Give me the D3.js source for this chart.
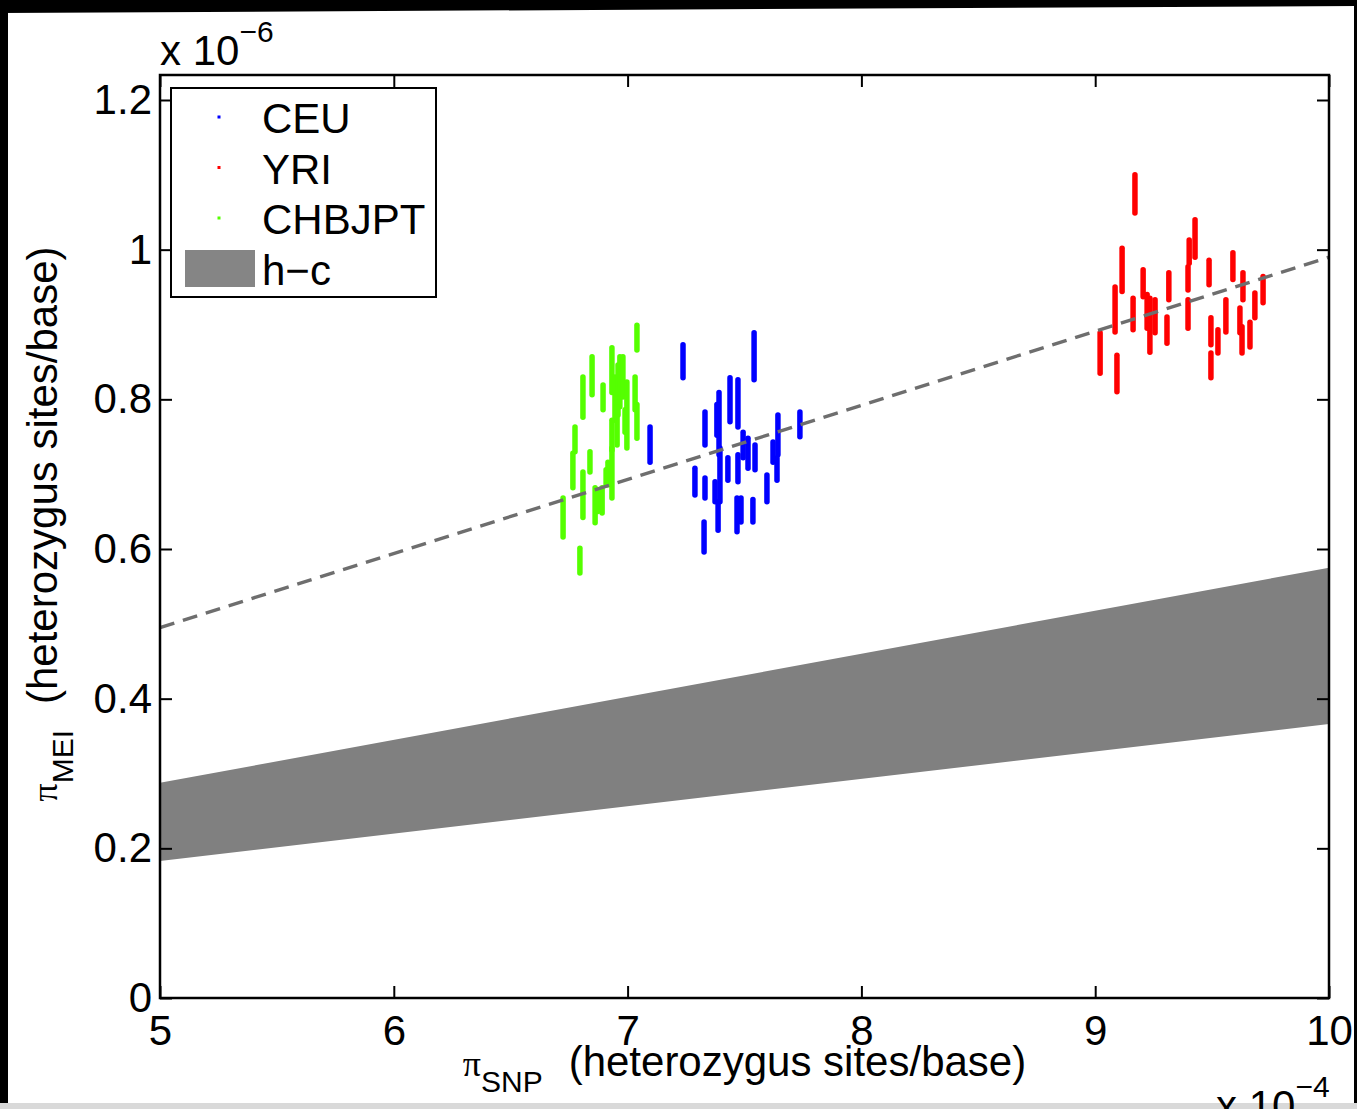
<!DOCTYPE html>
<html>
<head>
<meta charset="utf-8">
<script src="https://cdn.jsdelivr.net/npm/d3@7"></script>
<style>
  body { margin: 0; background: #fff; }
  svg { display: block; }
  text { font-family: "Liberation Sans", Arial, Helvetica, sans-serif; fill: #000; }
</style>
</head>
<body>
<svg id="chart" width="1357" height="1109"></svg>
<script>
// Per-individual diversity: [pi_SNP (x1e-4), pi_MEI low (x1e-6), pi_MEI high (x1e-6)]
const ceu = [
  [7.237, 0.829, 0.873], [7.541, 0.826, 0.889], [7.438, 0.770, 0.829], [7.472, 0.763, 0.826],
  [7.391, 0.726, 0.809], [7.331, 0.739, 0.783], [7.382, 0.752, 0.793], [7.395, 0.663, 0.735],
  [7.288, 0.672, 0.708], [7.331, 0.668, 0.695], [7.374, 0.663, 0.690], [7.429, 0.692, 0.722],
  [7.472, 0.690, 0.726], [7.494, 0.722, 0.756], [7.515, 0.708, 0.748], [7.545, 0.706, 0.739],
  [7.643, 0.726, 0.779], [7.622, 0.716, 0.743], [7.639, 0.692, 0.722], [7.596, 0.663, 0.699],
  [7.737, 0.750, 0.783], [7.387, 0.625, 0.663], [7.468, 0.623, 0.668], [7.485, 0.636, 0.668],
  [7.536, 0.636, 0.666], [7.327, 0.596, 0.636], [7.096, 0.716, 0.763]
];
const yri = [
  [9.170, 1.049, 1.100], [9.115, 0.944, 1.002], [9.085, 0.890, 0.950], [9.021, 0.835, 0.889],
  [9.093, 0.810, 0.859], [9.162, 0.893, 0.935], [9.205, 0.937, 0.973], [9.222, 0.895, 0.940],
  [9.234, 0.863, 0.935], [9.256, 0.889, 0.933], [9.315, 0.933, 0.969], [9.307, 0.875, 0.910],
  [9.427, 0.990, 1.040], [9.402, 0.982, 1.013], [9.397, 0.946, 0.977], [9.397, 0.895, 0.933],
  [9.487, 0.953, 0.986], [9.495, 0.873, 0.909], [9.495, 0.829, 0.862], [9.525, 0.862, 0.893],
  [9.559, 0.890, 0.933], [9.589, 0.960, 0.996], [9.632, 0.933, 0.969], [9.619, 0.889, 0.922],
  [9.628, 0.862, 0.897], [9.662, 0.870, 0.903], [9.683, 0.909, 0.942], [9.718, 0.929, 0.964]
];
const chbjpt = [
  [7.040, 0.866, 0.899], [6.848, 0.806, 0.857], [6.809, 0.776, 0.830], [6.775, 0.730, 0.763],
  [6.766, 0.682, 0.728], [6.724, 0.616, 0.668], [6.796, 0.568, 0.601], [6.809, 0.642, 0.703],
  [6.839, 0.703, 0.730], [6.861, 0.635, 0.682], [6.891, 0.648, 0.682], [6.895, 0.786, 0.819],
  [6.916, 0.686, 0.716], [6.933, 0.668, 0.735], [6.933, 0.809, 0.869], [6.946, 0.772, 0.830],
  [6.959, 0.779, 0.846], [6.967, 0.790, 0.857], [6.980, 0.803, 0.857], [6.955, 0.739, 0.789],
  [6.997, 0.735, 0.823], [7.032, 0.786, 0.830], [7.040, 0.748, 0.793], [6.933, 0.732, 0.772],
  [6.989, 0.756, 0.786], [6.873, 0.650, 0.679], [6.908, 0.686, 0.706]
];

// Regression line through the populations and the h-c expectation band
const fitLine = [[5, 0.495], [10, 0.990]];
const hcUpper = [[5, 0.2875], [10, 0.575]];
const hcLower = [[5, 0.183], [10, 0.366]];

const xTicks = [5, 6, 7, 8, 9, 10];
const xTickLabels = ["5", "6", "7", "8", "9", "10"];
const yTicks = [0, 0.2, 0.4, 0.6, 0.8, 1, 1.2];
const yTickLabels = ["0", "0.2", "0.4", "0.6", "0.8", "1", "1.2"];

const populations = ["CEU", "YRI", "CHBJPT"];
const popColors = ["#0000ff", "#ff0000", "#55ff00"];
const popData = [ceu, yri, chbjpt];
const bandLabel = "h\u2212c";

const svg = d3.select("#chart");
const W = 1357, H = 1109;
const plotLeft = 160, plotRight = 1329, plotTop = 75, plotBottom = 998;
const fs = 42;      // main font size
const subFs = 30;   // sub/superscript size

const x = d3.scaleLinear().domain([5, 10]).range([plotLeft, plotRight]);
const y = d3.scaleLinear().domain([0, 1.2334]).range([plotBottom, plotTop]);

// page frame
svg.append("rect").attr("width", W).attr("height", H).attr("fill", "#fff");
svg.append("path").attr("d", `M0,0H${W}V6L0,13Z`).attr("fill", "#000");
svg.append("rect").attr("x", 0).attr("y", 0).attr("width", 8).attr("height", H).attr("fill", "#000");
svg.append("rect").attr("x", 1354).attr("y", 0).attr("width", 3).attr("height", H).attr("fill", "#000");
svg.append("rect").attr("x", 0).attr("y", 1103).attr("width", W).attr("height", 6).attr("fill", "#d9d9d9");

// h-c band
const bandArea = d3.area()
  .x(d => x(d[0]))
  .y0((d, i) => y(hcLower[i][1]))
  .y1(d => y(d[1]));
svg.append("path").datum(hcUpper).attr("d", bandArea).attr("fill", "#808080");

// population bars
populations.forEach((p, k) => {
  svg.append("g").selectAll("line").data(popData[k]).join("line")
    .attr("x1", d => x(d[0])).attr("x2", d => x(d[0]))
    .attr("y1", d => y(d[1])).attr("y2", d => y(d[2]))
    .attr("stroke", popColors[k]).attr("stroke-width", 5.5).attr("stroke-linecap", "round");
});

// fitted dashed line
svg.append("path").datum(fitLine)
  .attr("d", d3.line().x(d => x(d[0])).y(d => y(d[1])))
  .attr("fill", "none").attr("stroke", "#6e6e6e").attr("stroke-width", 3.4)
  .attr("stroke-dasharray", "15,9");

// axes
const tickLen = 12;
const gx = svg.append("g").attr("transform", `translate(0,${plotBottom})`)
  .call(d3.axisBottom(x).tickValues(xTicks).tickFormat((d, i) => xTickLabels[i]).tickSize(-tickLen).tickPadding(17));
const gxTop = svg.append("g").attr("transform", `translate(0,${plotTop})`)
  .call(d3.axisTop(x).tickValues(xTicks).tickFormat("").tickSize(-tickLen));
const gy = svg.append("g").attr("transform", `translate(${plotLeft},0)`)
  .call(d3.axisLeft(y).tickValues(yTicks).tickFormat((d, i) => yTickLabels[i]).tickSize(-tickLen).tickPadding(8));
const gyRight = svg.append("g").attr("transform", `translate(${plotRight},0)`)
  .call(d3.axisRight(y).tickValues(yTicks).tickFormat("").tickSize(-tickLen));
[gx, gxTop, gy, gyRight].forEach(g => {
  g.select(".domain").remove();
  g.selectAll(".tick line").attr("stroke", "#000").attr("stroke-width", 2);
  g.selectAll(".tick text").attr("font-size", fs).attr("font-family", "Liberation Sans, Arial, sans-serif").attr("fill", "#000");
});
svg.append("rect").attr("x", plotLeft).attr("y", plotTop)
  .attr("width", plotRight - plotLeft).attr("height", plotBottom - plotTop)
  .attr("fill", "none").attr("stroke", "#000").attr("stroke-width", 2.5);

// exponent labels
const e6 = svg.append("text").attr("x", plotLeft).attr("y", 65).attr("font-size", fs);
e6.append("tspan").text("x 10");
e6.append("tspan").attr("font-size", subFs).attr("dy", -23).text("\u22126");
const e4 = svg.append("text").attr("x", 1216).attr("y", 1120).attr("font-size", fs);
e4.append("tspan").text("x 10");
e4.append("tspan").attr("font-size", subFs).attr("dy", -23).text("\u22124");

// axis titles
const xt = svg.append("text").attr("x", (plotLeft + plotRight) / 2).attr("y", 1076)
  .attr("text-anchor", "middle").attr("font-size", fs);
xt.append("tspan").attr("font-family", "Liberation Serif, Times New Roman, serif").attr("font-size", 36).text("\u03c0");
xt.append("tspan").attr("font-size", subFs).attr("dy", 16).text("SNP");
xt.append("tspan").attr("dy", -16).attr("dx", 26).text("(heterozygus sites/base)");

const yt = svg.append("text").attr("transform", `translate(57,524) rotate(-90)`)
  .attr("text-anchor", "middle").attr("font-size", fs);
yt.append("tspan").attr("font-family", "Liberation Serif, Times New Roman, serif").attr("font-size", 36).text("\u03c0");
yt.append("tspan").attr("font-size", subFs).attr("dy", 16).text("MEI");
yt.append("tspan").attr("dy", -16).attr("dx", 26).text("(heterozygus sites/base)");

// legend
const lg = svg.append("g");
lg.append("rect").attr("x", 171).attr("y", 88).attr("width", 265).attr("height", 209)
  .attr("fill", "#fff").attr("stroke", "#000").attr("stroke-width", 2);
populations.forEach((p, k) => {
  const cy = 117 + k * 50.5;
  lg.append("rect").attr("x", 217.5).attr("y", cy - 1.5).attr("width", 3).attr("height", 3).attr("fill", popColors[k]);
  lg.append("text").attr("x", 262).attr("y", cy + 16).attr("font-size", fs).text(p);
});
lg.append("rect").attr("x", 185).attr("y", 250).attr("width", 70).attr("height", 37).attr("fill", "#858585");
lg.append("text").attr("x", 262).attr("y", 285).attr("font-size", fs).text(bandLabel);
</script>
</body>
</html>
